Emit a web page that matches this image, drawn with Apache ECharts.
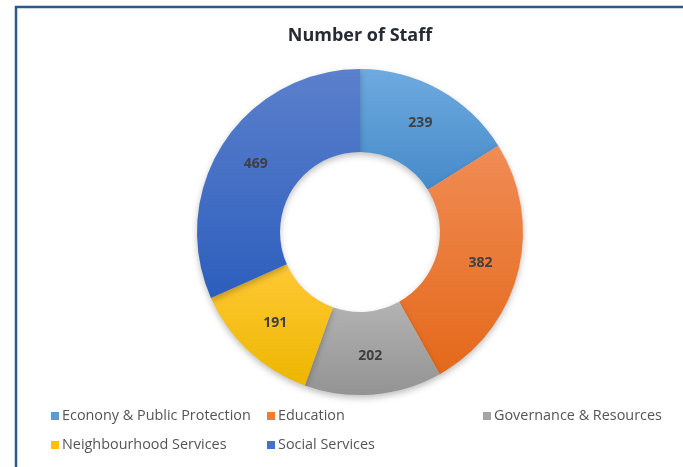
<!DOCTYPE html>
<html>
<head>
<meta charset="utf-8">
<script src="https://cdn.jsdelivr.net/npm/echarts@6/dist/echarts.min.js"></script>
<style>
html,body{margin:0;padding:0;background:#fff;}
#chart{width:683px;height:467px;}
</style>
</head>
<body>
<div id="chart"></div>
<script>
const categories = ["Econony & Public Protection", "Education", "Governance & Resources", "Neighbourhood Services", "Social Services"];
const values = [239, 382, 202, 191, 469];
const baseColors = ["#5b9bd5", "#ed7d31", "#a5a5a5", "#ffc000", "#4472c4"];
const topColors = ["#6eaadf", "#f08c55", "#b3b3b3", "#ffc935", "#5b80cc"];
const bottomColors = ["#468ac9", "#e4691a", "#939393", "#edb600", "#2d5ebd"];

const chart = echarts.init(document.getElementById('chart'));
const font = '"Open Sans", "Noto Sans", sans-serif';

const legendPos = [[51, 407], [267, 407], [483, 407], [51, 436], [267, 436]];
const legends = categories.map((name, i) => ({
  left: legendPos[i][0],
  top: legendPos[i][1],
  padding: 0,
  itemWidth: 8,
  itemHeight: 8,
  itemGap: 0,
  icon: 'rect',
  selectedMode: false,
  textStyle: { fontFamily: font, fontSize: 14.4, color: '#555555', lineHeight: 18, padding: [0, 0, 0, -2] },
  data: [{ name: name, itemStyle: { color: baseColors[i] } }]
}));

chart.setOption({
  backgroundColor: '#ffffff',
  animation: false,
  title: {
    text: 'Number of Staff',
    left: 355,
    textAlign: 'center',
    top: 22,
    textStyle: { fontFamily: font, fontSize: 18, fontWeight: 'bold', color: '#262a33' }
  },
  legend: legends,
  graphic: [{
    type: 'rect',
    shape: { x: 16, y: 7, width: 720, height: 520 },
    style: { fill: 'none', stroke: '#2a5b88', lineWidth: 2.5 },
    silent: true
  }],
  series: [{
    type: 'pie',
    center: [360, 232],
    radius: [80, 163],
    startAngle: 90,
    clockwise: true,
    avoidLabelOverlap: false,
    label: {
      show: true,
      position: 'inside',
      formatter: '{c}',
      fontFamily: font,
      fontSize: 14,
      fontWeight: 'bold',
      color: '#404040'
    },
    labelLine: { show: false },
    emphasis: { disabled: true },
    itemStyle: {
      shadowColor: 'rgba(0,0,0,0.25)',
      shadowBlur: 6,
      shadowOffsetY: 3
    },
    data: categories.map((name, i) => ({
      name: name,
      value: values[i],
      itemStyle: {
        color: new echarts.graphic.LinearGradient(0, 0, 0, 1, [
          { offset: 0, color: topColors[i] },
          { offset: 1, color: bottomColors[i] }
        ])
      }
    }))
  }]
});
</script>
</body>
</html>
